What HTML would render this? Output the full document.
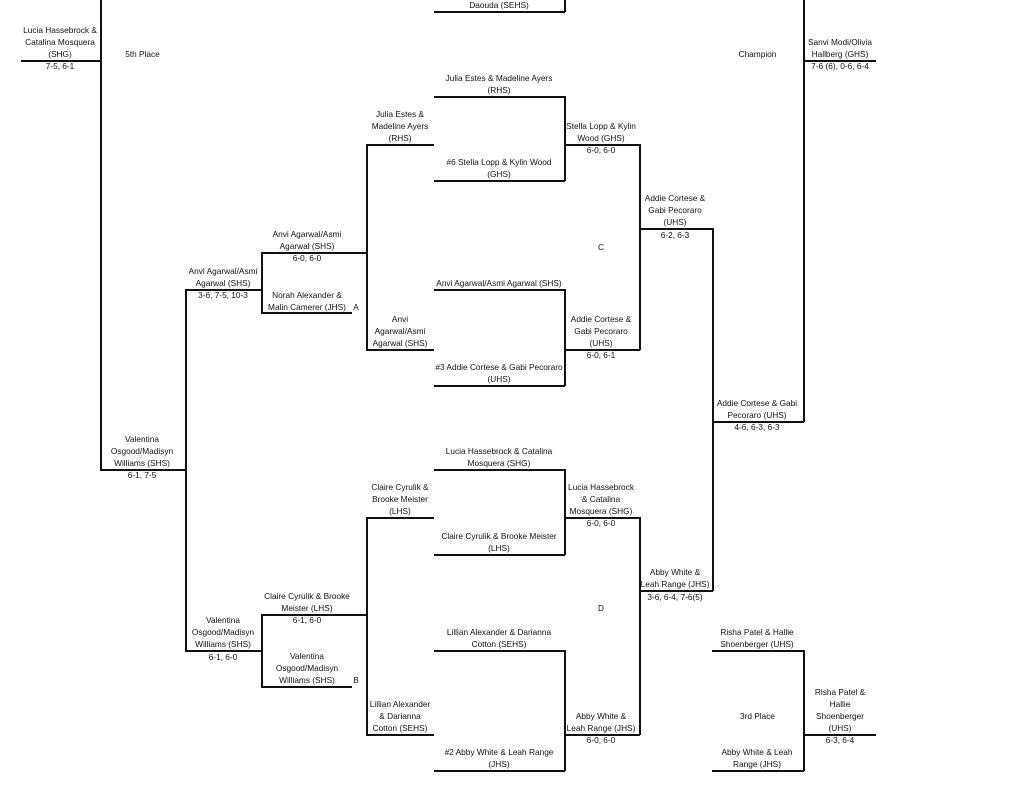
<!DOCTYPE html>
<html><head><meta charset="utf-8">
<style>
body{margin:0;width:1024px;height:796px;background:#fff;position:relative;overflow:hidden;font-family:"Liberation Sans",sans-serif;}
.h{position:absolute;height:1.5px;background:#111;}
.v{position:absolute;width:1.5px;background:#111;}
.t{position:absolute;text-align:center;font-size:8.3px;line-height:12px;color:#111;white-space:nowrap;}
</style></head><body>
<!-- lines -->
<div class="h" style="left:434px;top:11px;width:131px"></div>
<div class="v" style="left:564px;top:0;height:12px"></div>
<div class="h" style="left:21px;top:60px;width:80px"></div>
<div class="v" style="left:100px;top:0;height:470px"></div>
<div class="h" style="left:100px;top:469px;width:86px"></div>
<div class="v" style="left:185px;top:289px;height:362px"></div>
<div class="h" style="left:185px;top:289px;width:77px"></div>
<div class="h" style="left:185px;top:650px;width:77px"></div>
<div class="v" style="left:261px;top:252px;height:61px"></div>
<div class="h" style="left:261px;top:252px;width:106px"></div>
<div class="h" style="left:261px;top:312px;width:91px"></div>
<div class="v" style="left:366px;top:144px;height:206px"></div>
<div class="h" style="left:366px;top:144px;width:68px"></div>
<div class="h" style="left:366px;top:349px;width:68px"></div>
<div class="h" style="left:434px;top:96px;width:131px"></div>
<div class="h" style="left:434px;top:180px;width:131px"></div>
<div class="h" style="left:434px;top:289px;width:131px"></div>
<div class="h" style="left:434px;top:385px;width:131px"></div>
<div class="v" style="left:564px;top:96px;height:85px"></div>
<div class="v" style="left:564px;top:289px;height:97px"></div>
<div class="h" style="left:564px;top:144px;width:76px"></div>
<div class="h" style="left:564px;top:349px;width:76px"></div>
<div class="v" style="left:639px;top:144px;height:206px"></div>
<div class="h" style="left:639px;top:228px;width:74px"></div>
<div class="v" style="left:712px;top:228px;height:363px"></div>
<div class="h" style="left:712px;top:421px;width:92px"></div>
<div class="v" style="left:803px;top:0;height:422px"></div>
<div class="h" style="left:803px;top:60px;width:73px"></div>
<div class="v" style="left:261px;top:614px;height:73px"></div>
<div class="h" style="left:261px;top:614px;width:106px"></div>
<div class="h" style="left:261px;top:686px;width:91px"></div>
<div class="v" style="left:366px;top:517px;height:218px"></div>
<div class="h" style="left:366px;top:517px;width:68px"></div>
<div class="h" style="left:366px;top:734px;width:68px"></div>
<div class="h" style="left:434px;top:469px;width:131px"></div>
<div class="h" style="left:434px;top:554px;width:131px"></div>
<div class="h" style="left:434px;top:650px;width:131px"></div>
<div class="h" style="left:434px;top:770px;width:131px"></div>
<div class="v" style="left:564px;top:469px;height:86px"></div>
<div class="v" style="left:564px;top:650px;height:121px"></div>
<div class="h" style="left:564px;top:517px;width:76px"></div>
<div class="h" style="left:564px;top:734px;width:76px"></div>
<div class="v" style="left:639px;top:517px;height:218px"></div>
<div class="h" style="left:639px;top:590px;width:74px"></div>
<div class="h" style="left:712px;top:650px;width:92px"></div>
<div class="h" style="left:712px;top:770px;width:92px"></div>
<div class="v" style="left:803px;top:650px;height:121px"></div>
<div class="h" style="left:803px;top:734px;width:73px"></div>

<!-- texts -->
<div class="t" style="left:434px;width:130px;top:-1px">Daouda (SEHS)</div>
<div class="t" style="left:10px;width:100px;top:24px">Lucia Hassebrock &amp;<br>Catalina Mosquera<br>(SHG)</div>
<div class="t" style="left:10px;width:100px;top:60px">7-5, 6-1</div>
<div class="t" style="left:100px;width:85px;top:48px">5th Place</div>
<div class="t" style="left:424px;width:150px;top:72px">Julia Estes &amp; Madeline Ayers<br>(RHS)</div>
<div class="t" style="left:355px;width:90px;top:108px">Julia Estes &amp;<br>Madeline Ayers<br>(RHS)</div>
<div class="t" style="left:424px;width:150px;top:156px">#6 Stella Lopp &amp; Kylin Wood<br>(GHS)</div>
<div class="t" style="left:556px;width:90px;top:120px">Stella Lopp &amp; Kylin<br>Wood (GHS)</div>
<div class="t" style="left:556px;width:90px;top:144px">6-0, 6-0</div>
<div class="t" style="left:712px;width:91px;top:48px">Champion</div>
<div class="t" style="left:795px;width:90px;top:36px">Sanvi Modi/Olivia<br>Hallberg (GHS)</div>
<div class="t" style="left:795px;width:90px;top:60px">7-6 (6), 0-6, 6-4</div>
<div class="t" style="left:630px;width:90px;top:192px">Addie Cortese &amp;<br>Gabi Pecoraro<br>(UHS)</div>
<div class="t" style="left:630px;width:90px;top:229px">6-2, 6-3</div>
<div class="t" style="left:556px;width:90px;top:241px">C</div>
<div class="t" style="left:252px;width:110px;top:228px">Anvi Agarwal/Asmi<br>Agarwal (SHS)</div>
<div class="t" style="left:252px;width:110px;top:252px">6-0, 6-0</div>
<div class="t" style="left:178px;width:90px;top:265px">Anvi Agarwal/Asmi<br>Agarwal (SHS)</div>
<div class="t" style="left:178px;width:90px;top:289px">3-6, 7-5, 10-3</div>
<div class="t" style="left:252px;width:110px;top:289px">Norah Alexander &amp;<br>Malin Camerer (JHS)</div>
<div class="t" style="left:351px;width:10px;top:301px">A</div>
<div class="t" style="left:424px;width:150px;top:277px">Anvi Agarwal/Asmi Agarwal (SHS)</div>
<div class="t" style="left:355px;width:90px;top:313px">Anvi<br>Agarwal/Asmi<br>Agarwal (SHS)</div>
<div class="t" style="left:556px;width:90px;top:313px">Addie Cortese &amp;<br>Gabi Pecoraro<br>(UHS)</div>
<div class="t" style="left:556px;width:90px;top:349px">6-0, 6-1</div>
<div class="t" style="left:424px;width:150px;top:361px">#3 Addie Cortese &amp; Gabi Pecoraro<br>(UHS)</div>
<div class="t" style="left:707px;width:100px;top:397px">Addie Cortese &amp; Gabi<br>Pecoraro (UHS)</div>
<div class="t" style="left:707px;width:100px;top:421px">4-6, 6-3, 6-3</div>
<div class="t" style="left:97px;width:90px;top:433px">Valentina<br>Osgood/Madisyn<br>Williams (SHS)</div>
<div class="t" style="left:97px;width:90px;top:469px">6-1, 7-5</div>
<div class="t" style="left:424px;width:150px;top:445px">Lucia Hassebrock &amp; Catalina<br>Mosquera (SHG)</div>
<div class="t" style="left:355px;width:90px;top:481px">Claire Cyrulik &amp;<br>Brooke Meister<br>(LHS)</div>
<div class="t" style="left:556px;width:90px;top:481px">Lucia Hassebrock<br>&amp; Catalina<br>Mosquera (SHG)</div>
<div class="t" style="left:556px;width:90px;top:517px">6-0, 6-0</div>
<div class="t" style="left:424px;width:150px;top:530px">Claire Cyrulik &amp; Brooke Meister<br>(LHS)</div>
<div class="t" style="left:630px;width:90px;top:566px">Abby White &amp;<br>Leah Range (JHS)</div>
<div class="t" style="left:630px;width:90px;top:591px">3-6, 6-4, 7-6(5)</div>
<div class="t" style="left:556px;width:90px;top:602px">D</div>
<div class="t" style="left:252px;width:110px;top:590px">Claire Cyrulik &amp; Brooke<br>Meister (LHS)</div>
<div class="t" style="left:252px;width:110px;top:614px">6-1, 6-0</div>
<div class="t" style="left:178px;width:90px;top:614px">Valentina<br>Osgood/Madisyn<br>Williams (SHS)</div>
<div class="t" style="left:178px;width:90px;top:651px">6-1, 6-0</div>
<div class="t" style="left:424px;width:150px;top:626px">Lillian Alexander &amp; Darianna<br>Cotton (SEHS)</div>
<div class="t" style="left:707px;width:100px;top:626px">Risha Patel &amp; Hallie<br>Shoenberger (UHS)</div>
<div class="t" style="left:252px;width:110px;top:650px">Valentina<br>Osgood/Madisyn<br>Williams (SHS)</div>
<div class="t" style="left:351px;width:10px;top:674px">B</div>
<div class="t" style="left:355px;width:90px;top:698px">Lillian Alexander<br>&amp; Darianna<br>Cotton (SEHS)</div>
<div class="t" style="left:556px;width:90px;top:710px">Abby White &amp;<br>Leah Range (JHS)</div>
<div class="t" style="left:556px;width:90px;top:734px">6-0, 6-0</div>
<div class="t" style="left:795px;width:90px;top:686px">Risha Patel &amp;<br>Hallie<br>Shoenberger<br>(UHS)</div>
<div class="t" style="left:795px;width:90px;top:734px">6-3, 6-4</div>
<div class="t" style="left:712px;width:91px;top:710px">3rd Place</div>
<div class="t" style="left:424px;width:150px;top:746px">#2 Abby White &amp; Leah Range<br>(JHS)</div>
<div class="t" style="left:707px;width:100px;top:746px">Abby White &amp; Leah<br>Range (JHS)</div>
</body></html>
